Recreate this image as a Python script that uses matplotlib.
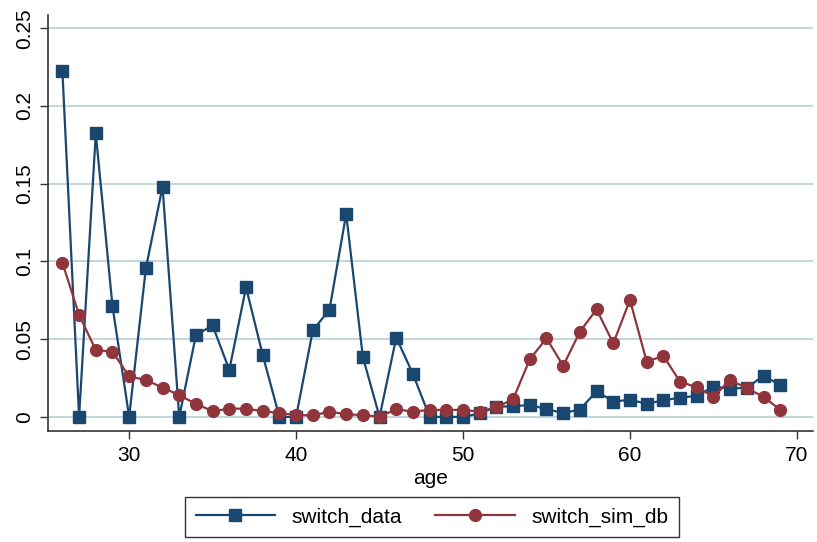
import matplotlib
matplotlib.use("Agg")
import matplotlib.pyplot as plt

ages = list(range(26, 70))
switch_data = [0.2225, 0.0, 0.1823, 0.0713, 0.0, 0.0956, 0.148, 0.0, 0.0527, 0.0588,
               0.0302, 0.0834, 0.0398, 0.0, 0.0, 0.0556, 0.069, 0.1305, 0.0385, 0.0,
               0.051, 0.0276, 0.0, 0.0, 0.0, 0.0022, 0.0066, 0.0068, 0.0077, 0.005,
               0.0025, 0.0047, 0.0165, 0.0099, 0.011, 0.0085, 0.0106, 0.0124, 0.0135, 0.0195,
               0.0182, 0.0188, 0.0264, 0.0205]
switch_sim_db = [0.0992, 0.0656, 0.043, 0.042, 0.026, 0.0238, 0.0188, 0.014, 0.0084, 0.0037,
                 0.0053, 0.0053, 0.0037, 0.0024, 0.0013, 0.0009, 0.0034, 0.0017, 0.0011, 0.0002,
                 0.0049, 0.0034, 0.0045, 0.0045, 0.0045, 0.0034, 0.0062, 0.0114, 0.037, 0.0506,
                 0.0328, 0.0548, 0.0692, 0.0473, 0.0752, 0.0356, 0.0392, 0.0227, 0.019, 0.013,
                 0.0238, 0.0184, 0.013, 0.0045]
xticks = [30, 40, 50, 60, 70]
yticks = [0, 0.05, 0.1, 0.15, 0.2, 0.25]
ytick_labels = ["0", "0.05", "0.1", "0.15", "0.2", "0.25"]

plt.rcParams['font.family'] = ['Liberation Sans', 'DejaVu Sans']

fig = plt.figure(figsize=(8.17, 5.42), dpi=100)
ax = fig.add_axes([0.059, 0.205, 0.936, 0.767])

blue = '#1a476f'
red = '#90353b'

for y in yticks:
    ax.axhline(y, color='#bcd4d9', lw=1.3, zorder=0)

ax.plot(ages, switch_data, color=blue, lw=1.6, marker='s', markersize=8.5,
        markeredgecolor=blue, label='switch_data', zorder=3)
ax.plot(ages, switch_sim_db, color=red, lw=1.6, marker='o', markersize=8.5,
        markeredgecolor=red, label='switch_sim_db', zorder=3)

ax.set_xlim(25.15, 70.96)
ax.set_ylim(-0.009, 0.2584)
ax.set_xticks(xticks)
ax.set_xticklabels([str(x) for x in xticks])
ax.set_yticks(yticks)
ax.set_yticklabels(ytick_labels, rotation=90, va='center')
ax.tick_params(axis='both', direction='out', length=6, width=1, labelsize=15, color='#333333')
ax.tick_params(axis='x', pad=5)
ax.tick_params(axis='y', pad=4)
for s in ['top', 'right']:
    ax.spines[s].set_visible(False)
for s in ['left', 'bottom']:
    ax.spines[s].set_color('#333333')
    ax.spines[s].set_linewidth(1.2)
ax.set_xlabel('age', fontsize=15, labelpad=3)

leg = fig.legend(loc='center', bbox_to_anchor=(432/817, 1 - 517/542), ncol=2,
                 fontsize=15, frameon=True, fancybox=False, edgecolor='black',
                 handlelength=3.8, columnspacing=1.6, borderpad=0.5, handletextpad=0.8)
leg.get_frame().set_linewidth(1.0)

fig.savefig('out.png', dpi=100)
